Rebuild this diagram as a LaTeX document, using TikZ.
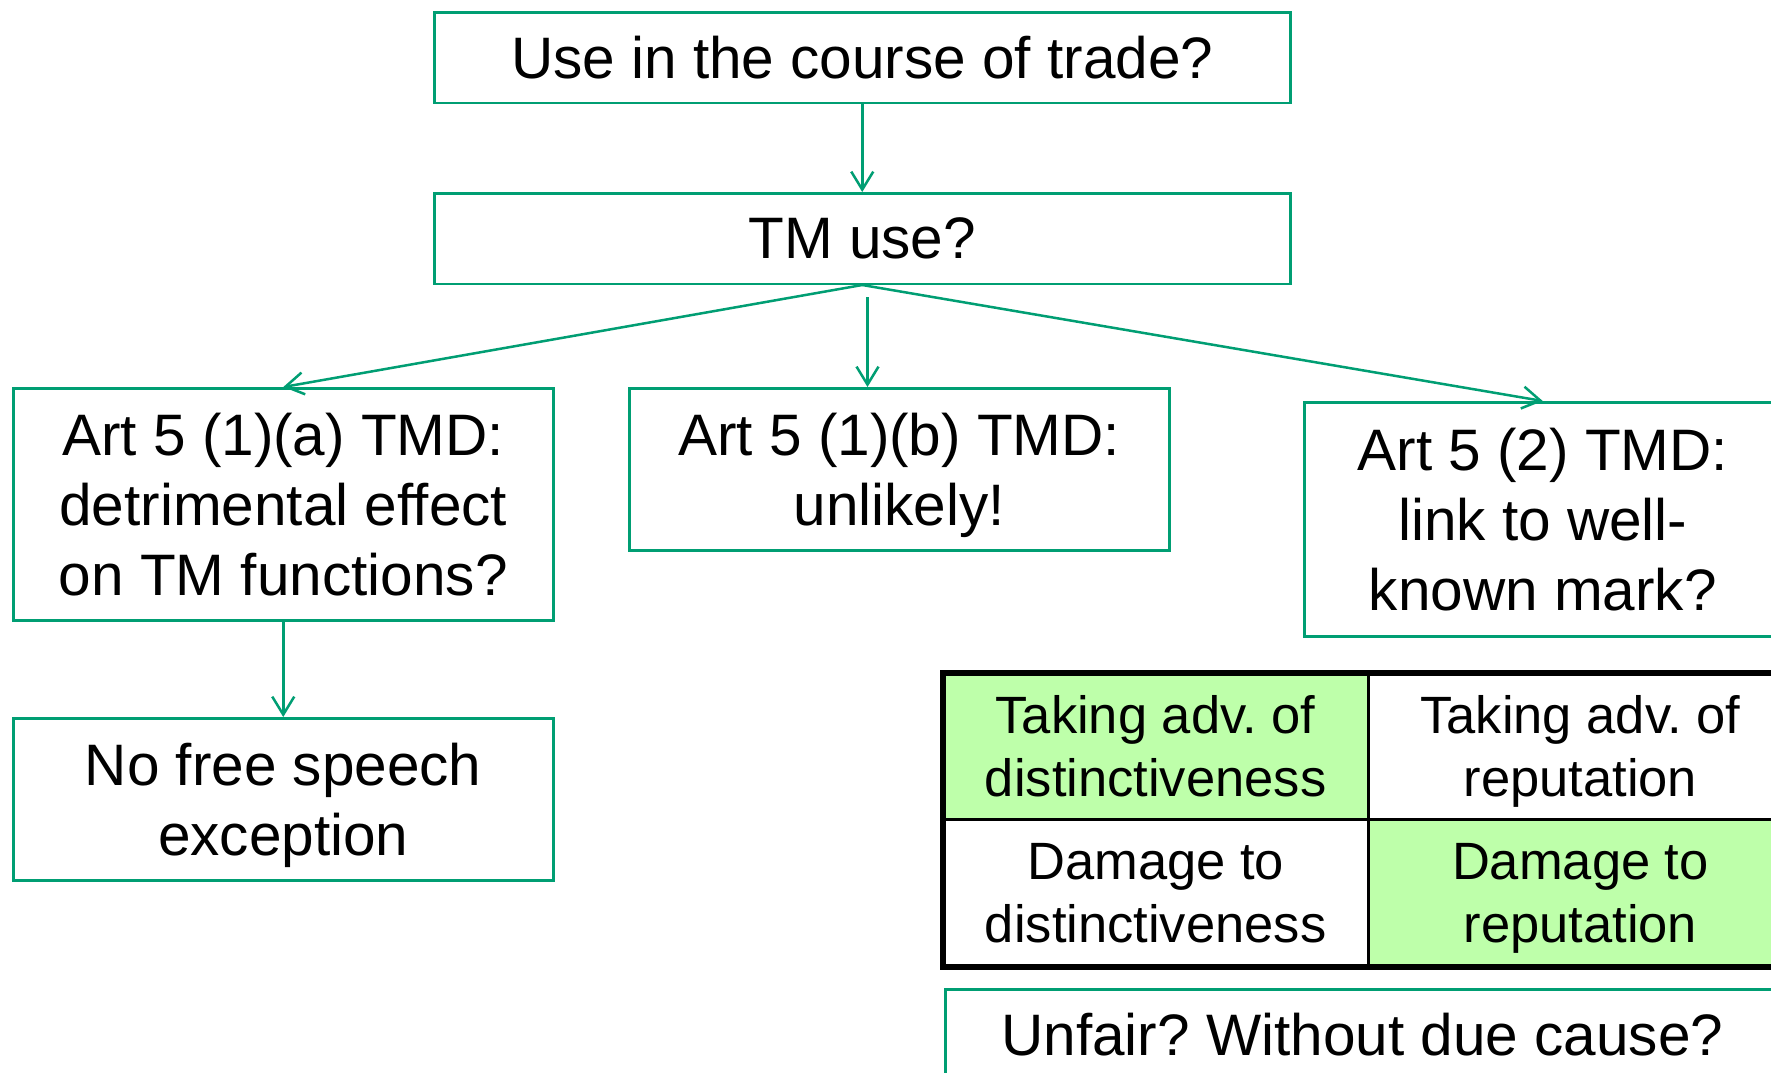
\documentclass[tikz,border=0pt]{standalone}
\usepackage{fontspec}
\setmainfont{Liberation Sans}
\frenchspacing
\usetikzlibrary{arrows.meta,calc}
\definecolor{tmgreen}{RGB}{0,158,115}
\definecolor{cellgreen}{RGB}{190,255,170}
\tikzset{
  box/.style={draw=tmgreen, line width=2.5pt, anchor=north west, inner sep=0pt, align=center, text depth=0pt, font=\fontsize{58.5}{70}\selectfont\frenchspacing},
  cell/.style={anchor=north west, inner sep=0pt, align=center, text depth=0pt, font=\fontsize{52.5}{63}\selectfont\frenchspacing, minimum width=424.8pt},
  arr/.style={draw=tmgreen, line width=2.5pt, -{Straight Barb[length=18pt,width=22pt,line width=2.5pt]}}
}
\begin{document}
\begin{tikzpicture}[x=1pt,y=-1pt]
\useasboundingbox (0,0) rectangle (1771,1072);
\clip (0,0) rectangle (1771,1072);
\fill[white] (0,0) rectangle (1771,1072);
\node[box, minimum width=856pt, minimum height=90.5pt] (q1) at (433,11) {Use in the course of trade?};
\node[box, minimum width=856pt, minimum height=90.5pt] (q2) at (433,192) {TM use?};
\node[box, minimum width=540pt, minimum height=232pt] (a) at (12,387) {Art 5 (1)(a) TMD:\\detrimental effect\\on TM functions?};
\node[box, minimum width=540pt, minimum height=162pt] (nf) at (12,717) {No free speech\\exception};
\node[box, minimum width=540pt, minimum height=162pt] (b) at (628,387) {Art 5 (1)(b) TMD:\\unlikely!};
\node[box, minimum width=477pt, minimum height=234pt] (c) at (1303,401) {Art 5 (2) TMD:\\link to well-\\known mark?};
\node[cell, fill=cellgreen, minimum height=146pt] (t11) at (943,673) {Taking adv. of\\distinctiveness};
\node[cell, minimum height=146pt] (t12) at (1367.8,673) {Taking adv. of\\reputation};
\node[cell, minimum height=148pt] (t21) at (943,819) {Damage to\\distinctiveness};
\node[cell, fill=cellgreen, minimum height=148pt] (t22) at (1367.8,819) {Damage to\\reputation};
\draw[line width=3pt] (t11.north east) -- (t21.south east);
\draw[line width=3pt] (t11.south west) -- (t12.south east);
\draw[line width=6pt] (t11.north west) rectangle (t22.south east);
\node[box, minimum width=834pt, minimum height=90pt] (u) at (944,988) {Unfair? Without due cause?};
\draw[arr] (q1.south) -- (q2.north);
\draw[arr] (q2.south) -- (a.north);
\draw[arr] (q2.south) -- (c.north);
\coordinate (bs) at (867.5,297);
\draw[arr] (bs) -- (bs |- b.north);
\draw[arr] (a.south) -- (nf.north);
\end{tikzpicture}
\end{document}
